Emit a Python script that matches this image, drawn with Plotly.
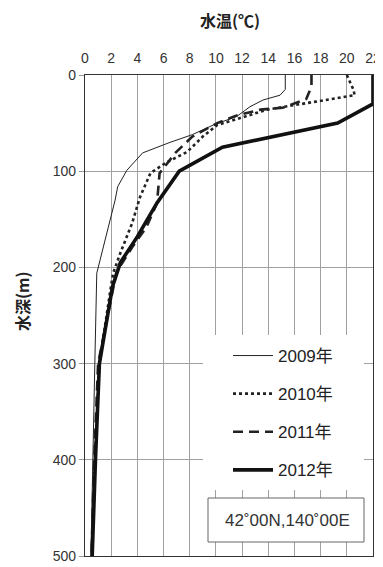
import plotly.graph_objects as go

# ---- data ----
years = ["2009年", "2010年", "2011年", "2012年"]

t2009 = [15.3, 15.3, 14.9, 13.6, 12.6, 11.6, 9.8, 8.2, 6.5, 4.4, 3.2, 2.5, 2.3, 1.7, 1.15, 0.9, 0.75, 0.6, 0.45]
d2009 = [0, 15, 21, 26, 33, 43, 52, 62, 70, 81, 99, 116, 130, 164, 192, 206, 300, 400, 500]

t2010 = [20.0, 20.5, 20.6, 19.2, 17.4, 15.9, 13.9, 11.8, 10.1, 9.0, 7.8, 6.2, 5.0, 4.2, 3.6, 2.7, 2.15, 1.9, 1.1, 0.75, 0.5]
d2010 = [0, 15, 21, 24, 28, 31, 36, 45, 52, 64, 80, 91, 102, 127, 154, 185, 206, 227, 300, 400, 500]

t2011 = [17.3, 17.3, 16.9, 15.1, 13.4, 11.6, 10.1, 8.2, 6.9, 5.7, 5.5, 4.7, 3.6, 2.4, 1.0, 0.7, 0.5]
d2011 = [0, 12, 25, 34, 36, 42, 50, 64, 81, 102, 133, 158, 179, 205, 300, 400, 500]

t2012 = [22, 22, 19.3, 10.5, 7.2, 5.5, 4.0, 2.7, 2.1, 1.1, 0.8, 0.55]
d2012 = [0, 30, 50, 75, 100, 133, 168, 195, 220, 300, 400, 500]

x_ticks = list(range(0, 23, 2))
y_ticks = [0, 100, 200, 300, 400, 500]

station_label = "42˚00N,140˚00E"
x_title = "水温(℃)"
y_title = "水深(m)"

FONT = "Liberation Sans, Arial, Noto Sans CJK JP, sans-serif"

# page body has an 8px margin: compensate so the figure lands at the reference pixels
OFF = 8
PAGE_W, PAGE_H = 383, 567
W, H = PAGE_W - OFF, PAGE_H - OFF
# plot area in page pixels: x 85..373, y 75..556
L, R, T, B = 85 - OFF, PAGE_W - 373, 75 - OFF, PAGE_H - 556
PW, PH = W - L - R, H - T - B


def px(xp):
    return (xp - 85) / PW


def py(yp):
    return (556 - yp) / PH


styles = [
    dict(color="#222", width=1, dash="solid"),
    dict(color="#222", width=2.6, dash="dot"),
    dict(color="#222", width=2.6, dash="10px,6px"),
    dict(color="#111", width=3.6, dash="solid"),
]

fig = go.Figure()
for name, xs, ys, st, grp in zip(years, [t2009, t2010, t2011, t2012],
                                 [d2009, d2010, d2011, d2012], styles, "abcd"):
    fig.add_trace(go.Scatter(x=xs, y=ys, mode="lines", name=name, line=st,
                             legendgroup=grp, showlegend=True))

fig.update_layout(
    width=W, height=H,
    margin=dict(l=L, r=R, t=T, b=B, autoexpand=False),
    paper_bgcolor="white", plot_bgcolor="white",
    font=dict(family=FONT, color="#333", size=13),
    showlegend=True,
    legend=dict(
        x=px(228), y=py(338), xanchor="left", yanchor="top",
        bgcolor="rgba(0,0,0,0)", borderwidth=0,
        font=dict(size=17, color="#222", family=FONT),
        tracegroupgap=13, itemwidth=40,
    ),
    xaxis=dict(
        side="top", range=[0, 22], tickvals=x_ticks, ticks="",
        showgrid=True, gridcolor="#a0a0a0", gridwidth=1,
        showline=True, linecolor="#333", linewidth=1.2, mirror=True,
        zeroline=False, tickfont=dict(size=14, color="#333"), ticklabelstandoff=5,
        ticklabeloverflow="allow",
    ),
    yaxis=dict(
        range=[500, 0], tickvals=y_ticks, ticks="outside", ticklen=5, tickcolor="#999",
        showgrid=True, gridcolor="#a0a0a0", gridwidth=1,
        showline=True, linecolor="#333", linewidth=1.2, mirror=True,
        zeroline=False, tickfont=dict(size=14, color="#333"),
        ticklabeloverflow="allow",
    ),
    shapes=[
        dict(type="rect", xref="paper", yref="paper", layer="above",
             x0=px(203), x1=px(364), y0=py(490), y1=py(335),
             fillcolor="white", line=dict(width=0)),
        dict(type="rect", xref="paper", yref="paper", layer="above",
             x0=px(208), x1=px(364), y0=py(542), y1=py(498),
             fillcolor="white", line=dict(width=1, color="#666")),
    ],
    annotations=[
        dict(text=station_label, xref="paper", yref="paper",
             x=px(287), y=py(520), xanchor="center", yanchor="middle", showarrow=False,
             font=dict(size=17, color="#333", family=FONT)),
        dict(text="<b>" + x_title + "</b>", xref="paper", yref="paper",
             x=px(230), y=py(20), xanchor="center", yanchor="middle", showarrow=False,
             font=dict(size=16, color="#222", family="Noto Sans CJK JP")),
        dict(text="<b>" + y_title + "</b>", xref="paper", yref="paper",
             x=px(22), y=py(301), xanchor="center", yanchor="middle", showarrow=False,
             textangle=-90,
             font=dict(size=16, color="#222", family="Noto Sans CJK JP")),
    ],
)

fig.write_html("out.html")
